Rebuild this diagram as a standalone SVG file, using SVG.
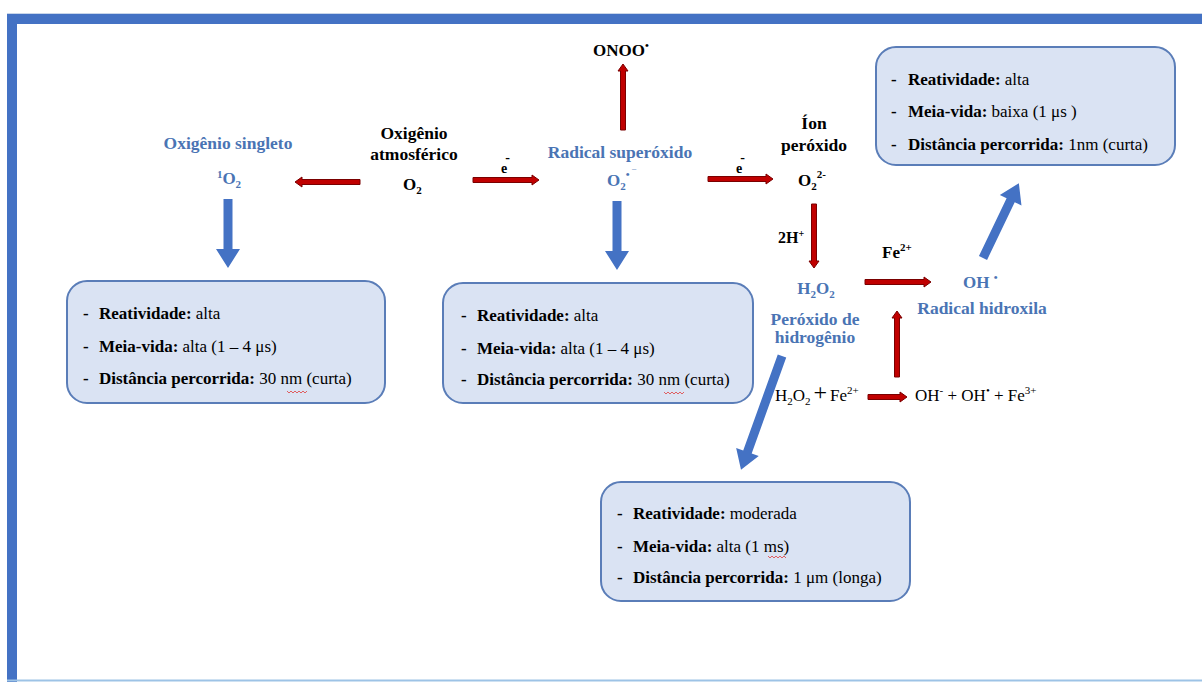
<svg xmlns="http://www.w3.org/2000/svg" width="1202" height="682" viewBox="0 0 1202 682">
<style>
text{font-family:"Liberation Serif","Times New Roman",serif;fill:#000}
.b{font-weight:bold}
.blue{fill:#4a74b4;font-weight:bold}
.lbl{font-size:17.5px}
.box{fill:#dae3f3;stroke:#5a7db8;stroke-width:2}
.bt{font-size:17px}
.red{fill:#c00000;stroke:#7a0000;stroke-width:1}
.bl{fill:#4472c4}
.sq{fill:none;stroke:#e05050;stroke-width:0.9}
</style>
<rect width="1202" height="682" fill="#fff"/>
<g id="frame">
<line x1="7" y1="13.5" x2="1202" y2="13.5" stroke="#c9d6ea" stroke-width="1"/>
<rect x="7" y="14" width="1195" height="10" fill="#4472c4"/>
<rect x="7" y="14" width="10" height="668" fill="#4472c4"/>
<line x1="7" y1="680.5" x2="1202" y2="680.5" stroke="#9dc3e6" stroke-width="2"/>
</g>
<g id="connectors">
<polygon class="red" points="0,-2.5 58,-2.5 58,-5 65,0 58,5 58,2.5 0,2.5" transform="translate(360,182) rotate(180)"/>
<polygon class="red" points="0,-2.5 59,-2.5 59,-5 66,0 59,5 59,2.5 0,2.5" transform="translate(473,180)"/>
<polygon class="red" points="0,-2.5 59,-2.5 59,-5 66,0 59,5 59,2.5 0,2.5" transform="translate(623,130) rotate(-90)"/>
<polygon class="red" points="0,-2.5 58,-2.5 58,-5 65,0 58,5 58,2.5 0,2.5" transform="translate(708,179)"/>
<polygon class="red" points="0,-2.5 57,-2.5 57,-5 64,0 57,5 57,2.5 0,2.5" transform="translate(814,204) rotate(90)"/>
<polygon class="red" points="0,-2.5 59,-2.5 59,-5 66,0 59,5 59,2.5 0,2.5" transform="translate(865,282)"/>
<polygon class="red" points="0,-2.5 59,-2.5 59,-5 66,0 59,5 59,2.5 0,2.5" transform="translate(897,377) rotate(-90)"/>
<polygon class="red" points="0,-2.5 32,-2.5 32,-5 39,0 32,5 32,2.5 0,2.5" transform="translate(868,397)"/>
<polygon class="bl" points="0,-4.5 50,-4.5 50,-12 69,0 50,12 50,4.5 0,4.5" transform="translate(228,199) rotate(90)"/>
<polygon class="bl" points="0,-4.5 50,-4.5 50,-12 69,0 50,12 50,4.5 0,4.5" transform="translate(617,201) rotate(90)"/>
<polygon class="bl" points="0,-4.5 102,-4.5 102,-12 121,0 102,12 102,4.5 0,4.5" transform="translate(782,356) rotate(109.8)"/>
<polygon class="bl" points="0,-4.5 64,-4.5 64,-12 83,0 64,12 64,4.5 0,4.5" transform="translate(983,258) rotate(-64.4)"/>
</g>
<g id="singlet">
<text class="blue lbl" x="228" y="149" text-anchor="middle">Oxigênio singleto</text>
<text class="blue" font-size="17" x="229" y="184" text-anchor="middle"><tspan font-size="11" dy="-6">1</tspan><tspan dy="6">O</tspan><tspan font-size="11" dy="4">2</tspan></text>
</g>
<g id="atmospheric">
<text class="b lbl" x="414" y="139" text-anchor="middle">Oxigênio</text>
<text class="b lbl" x="414" y="160" text-anchor="middle">atmosférico</text>
<text class="b" font-size="17" x="403" y="190">O<tspan font-size="11" dy="4">2</tspan></text>
</g>
<g id="e1"><text class="b" font-size="14" x="501" y="173">e<tspan dy="-11" dx="-2">-</tspan></text></g>
<g id="e2"><text class="b" font-size="14" x="736" y="173">e<tspan dy="-11" dx="-2">-</tspan></text></g>
<g id="superoxide">
<text class="blue lbl" x="620" y="158" text-anchor="middle">Radical superóxido</text>
<text class="blue" font-size="17" x="607" y="186">O<tspan font-size="11" dy="4">2</tspan><tspan font-size="11" dy="-12">• ‾</tspan></text>
</g>
<g id="onoo"><text class="b" font-size="17" x="593" y="56">ONOO<tspan font-size="11" dy="-7">•</tspan></text></g>
<g id="peroxide-ion">
<text class="b lbl" x="814" y="129" text-anchor="middle">Íon</text>
<text class="b lbl" x="814" y="151" text-anchor="middle">peróxido</text>
<text class="b" font-size="17" x="798" y="186">O<tspan font-size="11" dy="4">2</tspan><tspan font-size="11" dy="-12">2-</tspan></text>
</g>
<g id="h-plus"><text class="b" font-size="16" x="778" y="243">2H<tspan font-size="10" dy="-6">+</tspan></text></g>
<g id="h2o2">
<text class="blue" font-size="17" x="816" y="294" text-anchor="middle">H<tspan font-size="11" dy="4">2</tspan><tspan dy="-4">O</tspan><tspan font-size="11" dy="4">2</tspan></text>
<text class="blue lbl" x="815" y="325" text-anchor="middle">Peróxido de</text>
<text class="blue lbl" x="815" y="343" text-anchor="middle">hidrogênio</text>
</g>
<g id="fe2"><text class="b" font-size="17" x="882" y="258">Fe<tspan font-size="11" dy="-7">2+</tspan></text></g>
<g id="hydroxyl">
<text class="blue" font-size="17" x="963" y="288">OH <tspan font-size="11" dy="-7">•</tspan></text>
<text class="blue lbl" x="982" y="314" text-anchor="middle">Radical hidroxila</text>
</g>
<g id="fenton">
<text font-size="17" x="775" y="401">H<tspan font-size="11" dy="4">2</tspan><tspan dy="-4">O</tspan><tspan font-size="11" dy="4">2</tspan><tspan font-size="24" dy="-5" dx="3">+</tspan><tspan dy="1" dx="3">Fe</tspan><tspan font-size="11" dy="-7">2+</tspan></text>
<text font-size="17" x="915" y="401">OH<tspan font-size="11" dy="-7">-</tspan><tspan dy="7"> + OH</tspan><tspan font-size="11" dy="-7">•</tspan><tspan dy="7"> + Fe</tspan><tspan font-size="11" dy="-7">3+</tspan></text>
</g>
<g id="box-singlet">
<rect class="box" x="67" y="281" width="318" height="122" rx="20"/>
<text class="bt" x="83" y="319"><tspan class="b">-</tspan><tspan x="99" class="b">Reatividade:</tspan> alta</text>
<text class="bt" x="83" y="352"><tspan class="b">-</tspan><tspan x="99" class="b">Meia-vida:</tspan> alta (1 – 4 μs)</text>
<text class="bt" x="83" y="384"><tspan class="b">-</tspan><tspan x="99" class="b">Distância percorrida:</tspan> 30 nm (curta)</text>
<path class="sq" d="M287,391 l2,2 l2,-2 l2,2 l2,-2 l2,2 l2,-2 l2,2 l2,-2 l2,2 l2,-2"/>
</g>
<g id="box-superoxide">
<rect class="box" x="443" y="283" width="310" height="120" rx="20"/>
<text class="bt" x="461" y="321"><tspan class="b">-</tspan><tspan x="477" class="b">Reatividade:</tspan> alta</text>
<text class="bt" x="461" y="354"><tspan class="b">-</tspan><tspan x="477" class="b">Meia-vida:</tspan> alta (1 – 4 μs)</text>
<text class="bt" x="461" y="385"><tspan class="b">-</tspan><tspan x="477" class="b">Distância percorrida:</tspan> 30 nm (curta)</text>
<path class="sq" d="M664,392 l2,2 l2,-2 l2,2 l2,-2 l2,2 l2,-2 l2,2 l2,-2 l2,2 l2,-2"/>
</g>
<g id="box-h2o2">
<rect class="box" x="601" y="482" width="309" height="119" rx="20"/>
<text class="bt" x="617" y="519"><tspan class="b">-</tspan><tspan x="633" class="b">Reatividade:</tspan> moderada</text>
<text class="bt" x="617" y="552"><tspan class="b">-</tspan><tspan x="633" class="b">Meia-vida:</tspan> alta (1 ms)</text>
<text class="bt" x="617" y="583"><tspan class="b">-</tspan><tspan x="633" class="b">Distância percorrida:</tspan> 1 μm (longa)</text>
<path class="sq" d="M768,556 l2,2 l2,-2 l2,2 l2,-2 l2,2 l2,-2 l2,2 l2,-2 l2,2"/>
</g>
<g id="box-hydroxyl">
<rect class="box" x="876" y="47" width="299" height="118" rx="20"/>
<text class="bt" x="891" y="85"><tspan class="b">-</tspan><tspan x="908" class="b">Reatividade:</tspan> alta</text>
<text class="bt" x="891" y="117"><tspan class="b">-</tspan><tspan x="908" class="b">Meia-vida:</tspan> baixa (1 μs )</text>
<text class="bt" x="891" y="150"><tspan class="b">-</tspan><tspan x="908" class="b">Distância percorrida:</tspan> 1nm (curta)</text>
</g>
</svg>
